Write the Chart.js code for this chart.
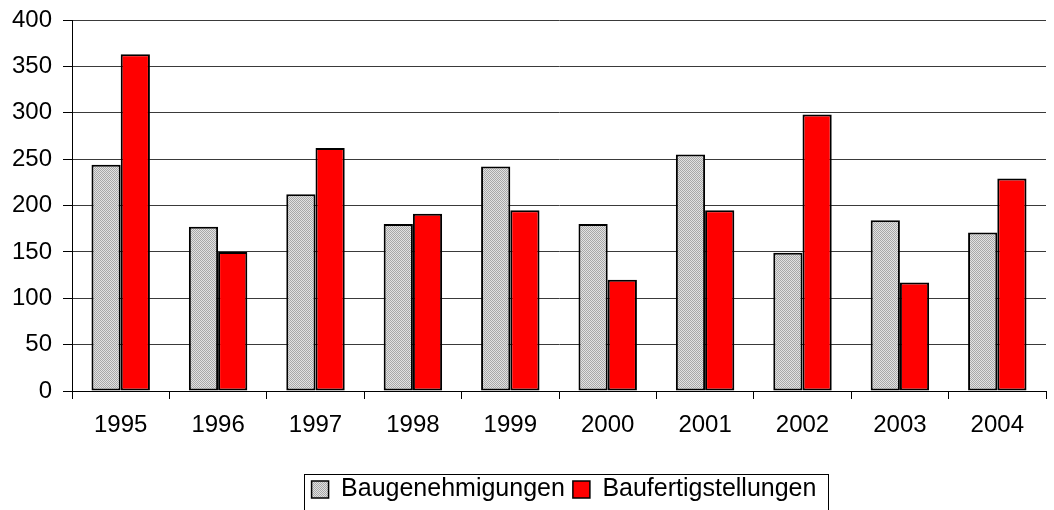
<!DOCTYPE html>
<html>
<head>
<meta charset="utf-8">
<script src="https://cdn.jsdelivr.net/npm/chart.js@4/dist/chart.umd.min.js"></script>
<style>
  html, body { margin: 0; padding: 0; background: #fff; }
  #wrap { width: 1054px; height: 510px; }
</style>
</head>
<body>
<div id="wrap"><canvas id="chart" width="1054" height="510"></canvas></div>
<script>
// Data
const years = ['1995', '1996', '1997', '1998', '1999', '2000', '2001', '2002', '2003', '2004'];
const baugenehmigungen = [244, 177, 212, 180, 242, 180, 255, 149, 184, 171];
const baufertigstellungen = [363, 150, 262, 191, 195, 120, 195, 298, 117, 229];
const yTicks = [0, 50, 100, 150, 200, 250, 300, 350, 400];

// Small dotted grey pattern, like the old office-chart fill
function greyPattern() {
  const c = document.createElement('canvas');
  c.width = 2; c.height = 2;
  const g = c.getContext('2d');
  g.fillStyle = '#e2e2e2'; g.fillRect(0, 0, 2, 2);
  g.fillStyle = '#a8a8a8'; g.fillRect(0, 0, 1, 1); g.fillRect(1, 1, 1, 1);
  return g.createPattern(c, 'repeat');
}

// The legend sits a bit right of the canvas centre in the original, with a box round it
const legendShift = { x: 41, y: 2 };
const legendBorder = {
  id: 'legendBorder',
  afterLayout(chart) {
    const lg = chart.legend;
    if (!lg) return;
    lg.left += legendShift.x; lg.right += legendShift.x;
    lg.top += legendShift.y; lg.bottom += legendShift.y;
    (lg.legendHitBoxes || []).forEach(b => { b.left += legendShift.x; b.top += legendShift.y; });
  },
  afterDraw(chart) {
    const boxes = chart.legend && chart.legend.legendHitBoxes;
    if (!boxes || !boxes.length) return;
    const left = Math.min(...boxes.map(b => b.left)) - 8;
    const right = Math.max(...boxes.map(b => b.left + b.width)) + 11;
    const midY = boxes[0].top + boxes[0].height / 2;
    const top = Math.round(midY - 18);
    const ctx = chart.ctx;
    ctx.save();
    ctx.strokeStyle = '#000';
    ctx.lineWidth = 1;
    ctx.strokeRect(Math.round(left) + 0.5, top + 0.5, Math.round(right - left), 36);
    ctx.restore();
  }
};

const tickFont = { family: 'Arial, "Liberation Sans", sans-serif', size: 24 };
const legendFont = { family: 'Arial, "Liberation Sans", sans-serif', size: 25 };

new Chart(document.getElementById('chart'), {
  type: 'bar',
  plugins: [legendBorder],
  data: {
    labels: years,
    datasets: [{
      label: 'Baugenehmigungen',
      data: baugenehmigungen,
      backgroundColor: greyPattern(),
      borderColor: '#000',
      borderWidth: 2,
      borderSkipped: false,
    }, {
      label: 'Baufertigstellungen',
      data: baufertigstellungen,
      backgroundColor: '#ff0000',
      borderColor: '#000',
      borderWidth: 2,
      borderSkipped: false,
    }],
  },
  options: {
    responsive: false,
    animation: false,
    categoryPercentage: 0.6,
    barPercentage: 1.0,
    layout: { padding: { top: 20, right: 8, bottom: 0, left: 0 } },
    plugins: {
      legend: {
        position: 'bottom',
        labels: {
          font: legendFont,
          color: '#000',
          boxWidth: 17,
          boxHeight: 17,
          padding: 8,
          generateLabels(chart) {
            return chart.data.datasets.map((ds, i) => ({
              text: ds.label,
              fillStyle: ds.backgroundColor,
              strokeStyle: '#000',
              lineWidth: 1.5,
              datasetIndex: i,
              fontColor: '#000',
            }));
          },
        },
      },
      tooltip: { enabled: false },
    },
    scales: {
      x: {
        offset: true,
        grid: { offset: true, drawOnChartArea: false, drawTicks: true, tickLength: 8, color: '#000' },
        border: { color: '#000', width: 1 },
        ticks: { font: tickFont, color: '#000', padding: 12 },
        afterFit(scale) { scale.height = 76; },
      },
      y: {
        min: 0,
        max: 400,
        afterBuildTicks(scale) { scale.ticks = yTicks.map(v => ({ value: v })); },
        grid: { color: '#3a3a3a', lineWidth: 1, tickLength: 9, tickColor: '#000' },
        border: { color: '#000', width: 1 },
        ticks: { font: tickFont, color: '#000', padding: 11 },
        afterFit(scale) { scale.width = 72; scale.paddingTop = 0; scale.paddingBottom = 0; },
      },
    },
  },
});
</script>
</body>
</html>
